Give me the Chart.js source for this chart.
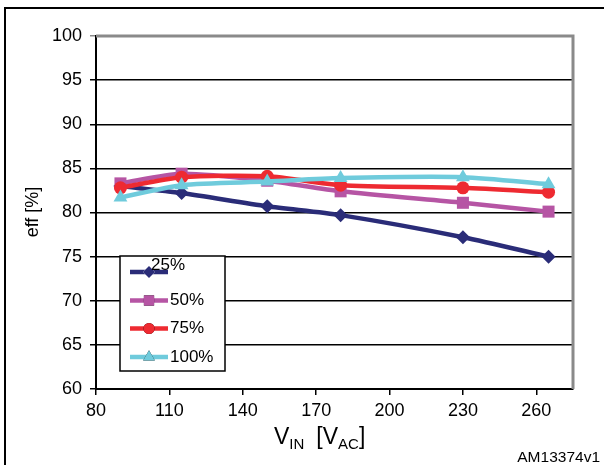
<!DOCTYPE html>
<html>
<head>
<meta charset="utf-8">
<script src="https://cdn.jsdelivr.net/npm/chart.js@4/dist/chart.umd.min.js"></script>
<style>
  html, body { margin: 0; padding: 0; background: #fff; }
  #wrap { position: relative; width: 604px; height: 465px; }
</style>
</head>
<body>
<div id="wrap"><canvas id="c" width="604" height="465"></canvas></div>
<script>
// Input voltage (V AC) and efficiency (%) at each load level
const vin = [90, 115, 150, 180, 230, 265];
const eff25 = [83.0, 82.2, 80.7, 79.7, 77.2, 75.0];
const eff50 = [83.3, 84.4, 83.6, 82.4, 81.1, 80.1];
const eff75 = [82.8, 84.0, 84.1, 83.1, 82.8, 82.3];
const eff100 = [81.7, 83.1, 83.5, 83.9, 84.0, 83.2];
const loadLabels = ['25%', '50%', '75%', '100%'];
const yTicks = [60, 65, 70, 75, 80, 85, 90, 95, 100];
const xTicks = [80, 110, 140, 170, 200, 230, 260];

const colors = ['#2a2c78', '#b655a4', '#ee2a31', '#6fcbdc'];
const styles = ['rectRot', 'rect', 'circle', 'triangle'];
const radii = [7, 8.5, 6.5, 8];
const series = [eff25, eff50, eff75, eff100];

const FONT = '"Liberation Sans", Arial, sans-serif';

const datasets = series.map((vals, i) => ({
  label: loadLabels[i],
  data: vals.map((v, k) => ({ x: vin[k], y: v })),
  borderColor: colors[i],
  backgroundColor: colors[i],
  borderWidth: 4.5,
  pointStyle: styles[i],
  pointRadius: radii[i],
  pointBorderWidth: 0,
  pointBackgroundColor: colors[i],
  tension: 0.25,
  order: 3 - i
}));

// Frame, plot border, inset legend and axis captions
const decor = {
  id: 'decor',
  beforeDatasetsDraw(chart) {
    const { ctx, chartArea: a } = chart;
    ctx.save();
    ctx.strokeStyle = '#8a8a8a';
    ctx.lineWidth = 3;
    ctx.beginPath();
    ctx.moveTo(a.left, a.top);
    ctx.lineTo(a.right, a.top);
    ctx.lineTo(a.right, a.bottom);
    ctx.stroke();
    ctx.restore();
  },
  afterDatasetsDraw(chart) {
    const { ctx } = chart;
    ctx.save();
    // legend box
    const bx = 120, by = 256, bw = 105, bh = 115;
    ctx.fillStyle = '#fff';
    ctx.fillRect(bx, by, bw, bh);
    ctx.strokeStyle = '#000';
    ctx.lineWidth = 1.5;
    ctx.strokeRect(bx, by, bw, bh);
    const rows = [272, 300.5, 328.5, 357];
    ctx.font = '17px ' + FONT;
    ctx.textBaseline = 'middle';
    ctx.textAlign = 'left';
    loadLabels.forEach((lab, i) => {
      const y = rows[i];
      ctx.strokeStyle = colors[i];
      ctx.lineWidth = 4.5;
      ctx.beginPath();
      ctx.moveTo(130, y);
      ctx.lineTo(168, y);
      ctx.stroke();
      Chart.helpers.drawPoint(ctx, {
        pointStyle: styles[i], radius: radii[i] * 0.85, borderWidth: 0
      }, 149, y);
      ctx.fillStyle = colors[i];
      ctx.fill();
      ctx.fillStyle = '#000';
      if (i === 0) ctx.fillText(lab, 151, 265);
      else ctx.fillText(lab, 170, y);
    });
    ctx.restore();
  },
  afterDraw(chart) {
    const { ctx } = chart;
    ctx.save();
    // outer frame
    ctx.strokeStyle = '#000';
    ctx.lineWidth = 2;
    ctx.beginPath();
    ctx.moveTo(5, 470);
    ctx.lineTo(5, 8);
    ctx.lineTo(610, 8);
    ctx.stroke();

    // y title
    ctx.fillStyle = '#000';
    ctx.save();
    ctx.translate(33, 212);
    ctx.rotate(-Math.PI / 2);
    ctx.font = '18px ' + FONT;
    ctx.textAlign = 'center';
    ctx.textBaseline = 'middle';
    ctx.fillText('eff [%]', 0, 0);
    ctx.restore();

    // x title with subscripts
    const parts = [
      ['V', 23, 0, 0], ['IN', 15, 5, 0], ['[V', 23, 0, 12], ['AC', 15, 5, 0], [']', 23, 0, 0]
    ];
    ctx.textBaseline = 'alphabetic';
    ctx.textAlign = 'left';
    let x = 274;
    parts.forEach(p => {
      x += p[3];
      ctx.font = p[1] + 'px ' + FONT;
      ctx.fillText(p[0], x, 444 + p[2]);
      x += ctx.measureText(p[0]).width;
    });

    ctx.font = '15.5px ' + FONT;
    ctx.textAlign = 'right';
    ctx.fillText('AM13374v1', 600, 462);
    ctx.restore();
  }
};

new Chart(document.getElementById('c'), {
  type: 'line',
  data: { datasets },
  options: {
    responsive: false,
    animation: false,
    layout: { padding: { left: 0, top: 36, right: 31, bottom: 0 } },
    plugins: { legend: { display: false }, tooltip: { enabled: false } },
    scales: {
      x: {
        type: 'linear',
        min: 80, max: 275,
        afterFit(s) { s.height = 465 - 389; },
        afterBuildTicks(s) { s.ticks = xTicks.map(v => ({ value: v })); },
        grid: { drawOnChartArea: false, drawTicks: true, tickLength: 6, color: '#000', lineWidth: 1.5 },
        border: { color: '#000', width: 2 },
        ticks: { color: '#000', font: { family: FONT, size: 18 }, padding: 5, maxRotation: 0 }
      },
      y: {
        min: 60, max: 100,
        afterFit(s) { s.width = 96; },
        afterBuildTicks(s) { s.ticks = yTicks.map(v => ({ value: v })); },
        grid: {
          drawTicks: true, tickLength: 6,
          color: ctx => (ctx.tick && ctx.tick.value === 100) ? '#8a8a8a' : '#000',
          lineWidth: 1.5
        },
        border: { color: '#000', width: 2 },
        ticks: { color: '#000', font: { family: FONT, size: 18 }, padding: 8 }
      }
    }
  },
  plugins: [decor]
});
</script>
</body>
</html>
